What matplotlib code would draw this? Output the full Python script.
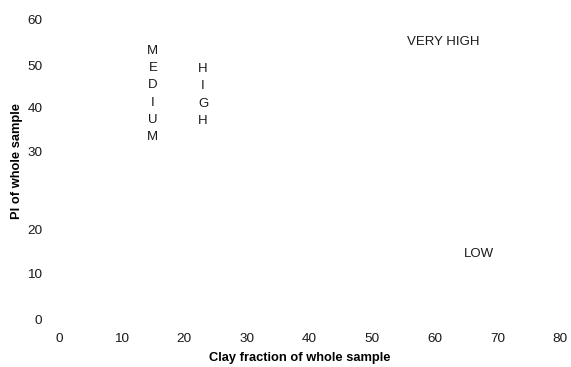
import matplotlib
matplotlib.use('Agg')
import matplotlib.pyplot as plt

plt.rcParams['font.family'] = ['Liberation Sans', 'DejaVu Sans']
plt.rcParams['font.size'] = 9

# x axis: clay fraction (%)
x_ticks = [0, 10, 20, 30, 40, 50, 60, 70, 80]
# y axis: tick labels as printed in the reference (spacing is uneven there)
y_tick_pos = [0, 9.2, 18, 33.6, 42.6, 51, 60]
y_tick_labels = ['0', '10', '20', '30', '40', '50', '60']

# activity zone labels (x, y, text)
zone_x = [15, 23, 61.3, 67]
zone_y = [45.2, 45, 55.6, 13.2]
zone_text = ['M\nE\nD\nI\nU\nM', 'H\nI\nG\nH', 'VERY HIGH', 'LOW']

fig = plt.figure(figsize=(5.71, 3.67), dpi=100)
ax = fig.add_axes([59/571, 1-320/367, 501/571, 300/367])

for x, y, t in zip(zone_x, zone_y, zone_text):
    ax.text(x, y, t, ha='center', va='center', fontsize=9.5, linespacing=1.58,
            color='#1a1a1a')

ax.set_xlim(0, 80)
ax.set_ylim(0, 60)
ax.set_xticks(x_ticks)
ax.set_yticks(y_tick_pos)
ax.set_yticklabels(y_tick_labels)
ax.tick_params(length=0, labelcolor='#1a1a1a', labelsize=9.7)
ax.tick_params(axis='x', pad=9)
ax.tick_params(axis='y', pad=12)
for s in ax.spines.values():
    s.set_visible(False)

ax.set_xlabel('Clay fraction of whole sample', fontweight='bold', fontsize=9.3)
ax.set_ylabel('PI of whole sample', fontweight='bold', fontsize=9.3)
ax.xaxis.set_label_coords(0.48, -0.107)
ax.yaxis.set_label_coords(-0.072, 0.53)

plt.savefig('out.png', dpi=100)
